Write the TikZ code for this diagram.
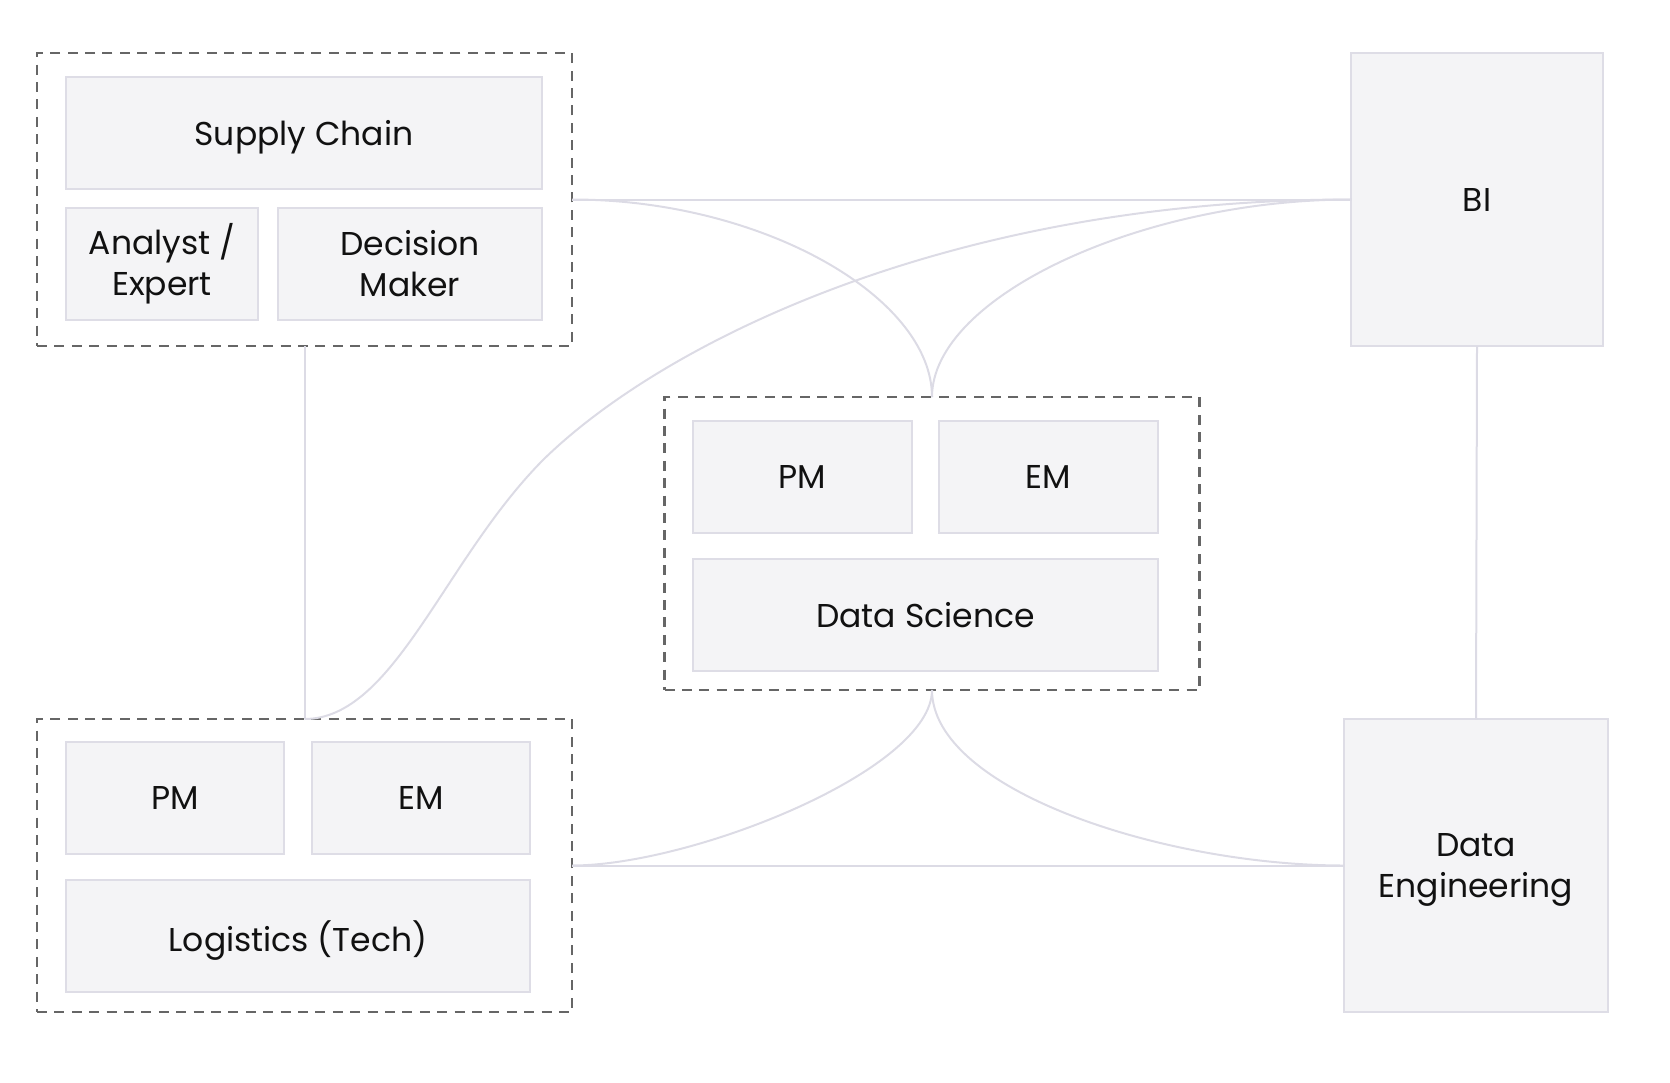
\documentclass[tikz,border=0pt]{standalone}
\usepackage{fontspec}
\setmainfont{Poppins}
\definecolor{boxfill}{HTML}{F4F4F6}
\definecolor{boxline}{HTML}{DEDDE6}
\definecolor{linkc}{HTML}{DCDBE5}
\definecolor{dashc}{HTML}{666666}
\definecolor{txt}{HTML}{111111}
\begin{document}
\begin{tikzpicture}[x=1pt,y=-1pt,
  box/.style={draw=boxline, fill=boxfill, line width=2pt, inner sep=0pt, outer sep=0pt,
    align=center, font=\fontsize{33}{41}\selectfont, text=txt},
  nodepth/.style={text depth=0pt},
  cluster/.style={draw=dashc, line width=2.6pt, dash pattern=on 10pt off 7.4pt,
    inner sep=0pt, outer sep=0pt, minimum width=535pt, minimum height=293pt},
  link/.style={draw=linkc, line width=2pt}]
\useasboundingbox (0,0) rectangle (1670,1082);
% clusters
\node[cluster] (A) at (304.5,199.5) {};
\node[cluster] (M) at (932,543.5) {};
\node[cluster] (L) at (304.5,865.5) {};
% top-left
\node[box, nodepth, minimum width=476pt, minimum height=112pt] (sc) at (304,133) {Supply Chain};
\node[box, minimum width=192pt, minimum height=112pt] (an) at (162,264) {Analyst /\\Expert};
\node[box, minimum width=264pt, minimum height=112pt] (dm) at (410,264) {Decision\\Maker};
% BI
\node[box, minimum width=252pt, minimum height=293pt] (bi) at (1477,199.5) {BI};
% middle
\node[box, minimum width=219pt, minimum height=112pt] (mpm) at (802.5,477) {PM};
\node[box, minimum width=219pt, minimum height=112pt] (mem) at (1048.5,477) {EM};
\node[box, minimum width=465pt, minimum height=112pt] (ds) at (925.5,615) {Data Science};
% bottom-left
\node[box, minimum width=218pt, minimum height=112pt] (lpm) at (175,798) {PM};
\node[box, minimum width=218pt, minimum height=112pt] (lem) at (421,798) {EM};
\node[box, nodepth, minimum width=464pt, minimum height=112pt] (lg) at (298,936) {Logistics (Tech)};
% Data Engineering
\node[box, nodepth, minimum width=264pt, minimum height=293pt] (de) at (1476,865.5) {Data\\Engineering};
% connectors
\coordinate (smid) at (544,459);
\draw[link] (A.east) -- (bi.west);
\draw[link] (A.south) -- (L.north);
\draw[link] (bi.south) -- (de.north);
\draw[link] (L.east) -- (de.west);
\draw[link] (A.east) .. controls +(190,0) and +(0,-100) .. (M.north);
\draw[link] (bi.west) .. controls +(-210,0) and +(0,-100) .. (M.north);
\draw[link] (L.east) .. controls +(120,0) and +(0,80) .. (M.south);
\draw[link] (M.south) .. controls +(0,100) and +(-180,0) .. (de.west);
\draw[link] (L.north) .. controls +(90,0) and +(-100,100) .. (smid)
  .. controls +(120,-117) and +(-400,0) .. (bi.west);
\end{tikzpicture}
\end{document}
